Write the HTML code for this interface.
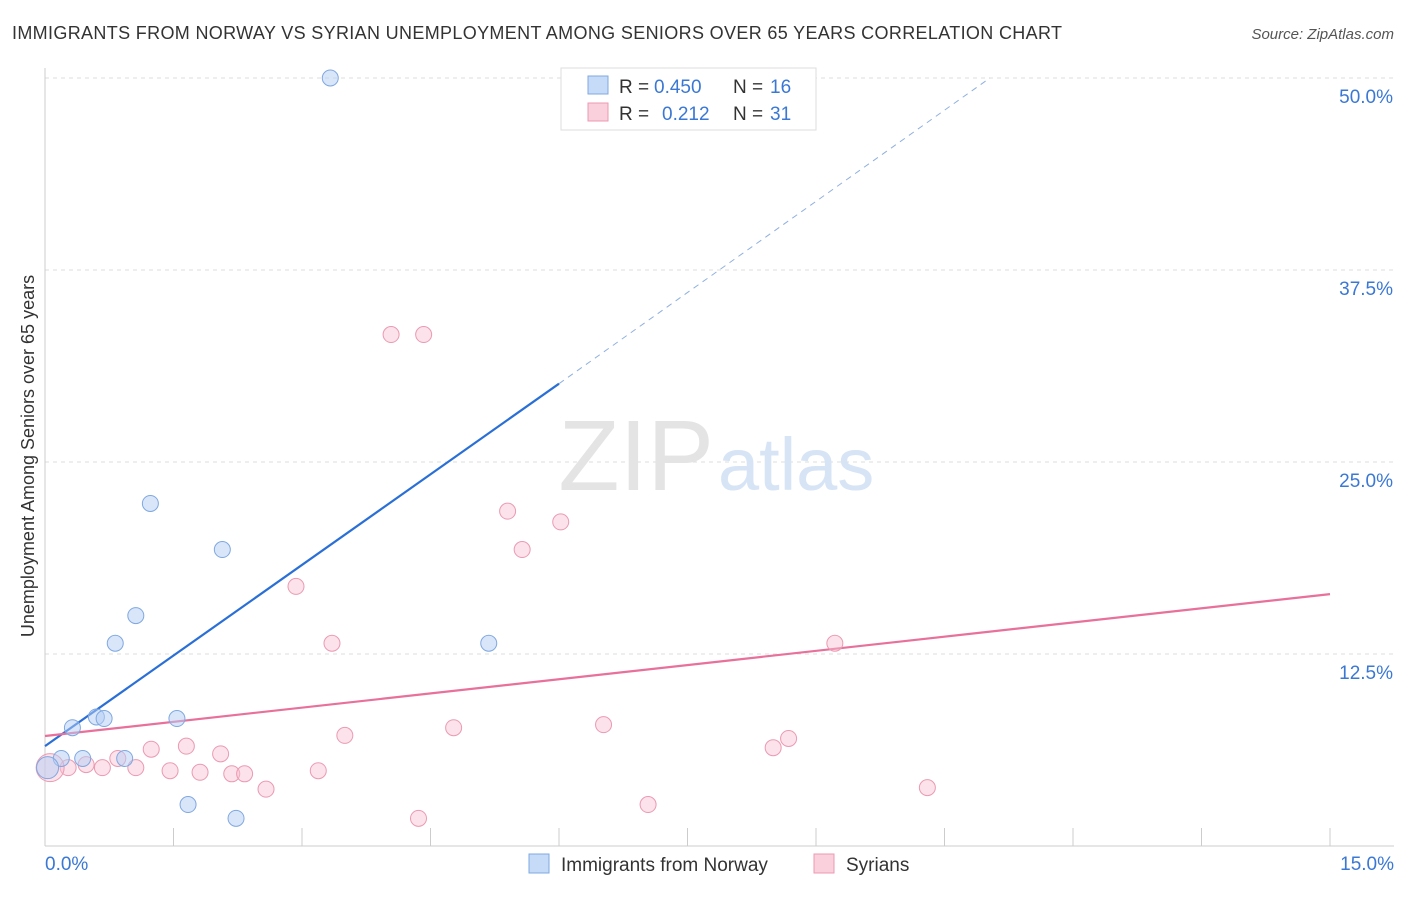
<!DOCTYPE html>
<html><head><meta charset="utf-8"><style>
body{margin:0;background:#fff;font-family:"Liberation Sans",sans-serif;}
svg text{font-family:"Liberation Sans",sans-serif;}
</style></head><body>
<svg width="1406" height="892" xmlns="http://www.w3.org/2000/svg">
<text x="12" y="39" font-size="18" fill="#333" textLength="1050">IMMIGRANTS FROM NORWAY VS SYRIAN UNEMPLOYMENT AMONG SENIORS OVER 65 YEARS CORRELATION CHART</text>
<text x="1394" y="39" font-size="15" fill="#555" font-style="italic" text-anchor="end">Source: ZipAtlas.com</text>
<g id="grid"></g>
<text x="714" y="490" font-size="100" fill="#e4e4e4" font-family="Liberation Serif" text-anchor="end">ZIP</text>
<text x="718" y="490" font-size="74" fill="#d6e4f5">atlas</text>
<text transform="translate(34,456) rotate(-90)" font-size="18" fill="#333" text-anchor="middle">Unemployment Among Seniors over 65 years</text>
<text x="45" y="870" font-size="19" fill="#3a78d4">0.0%</text>
<text x="1394" y="870" font-size="19" fill="#3a78d4" text-anchor="end">15.0%</text>
<g id="lines"></g>
<g id="pts"></g>
<g>
<rect x="561" y="68" width="255" height="62" fill="#fff" stroke="#ddd"/>
<rect x="588" y="76" width="20" height="18" fill="#c6dbf7" stroke="#7fa8e0"/>
<text y="93" font-size="19" fill="#333"><tspan x="619">R =</tspan><tspan x="654" fill="#3a78d4">0.450</tspan><tspan x="733">N =</tspan><tspan x="770" fill="#3a78d4">16</tspan></text>
<rect x="588" y="103" width="20" height="18" fill="#fad0dc" stroke="#eb9ab2"/>
<text y="120" font-size="19" fill="#333"><tspan x="619">R =</tspan><tspan x="662" fill="#3a78d4">0.212</tspan><tspan x="733">N =</tspan><tspan x="770" fill="#3a78d4">31</tspan></text>
</g>
<g>
<rect x="529" y="854" width="20" height="19" fill="#c6dbf7" stroke="#7fa8e0"/>
<text x="561" y="871" font-size="19" fill="#333">Immigrants from Norway</text>
<rect x="814" y="854" width="20" height="19" fill="#fad0dc" stroke="#eb9ab2"/>
<text x="846" y="871" font-size="19" fill="#333">Syrians</text>
</g>
</svg>
<script>
const yTicks=[12.5,25,37.5,50];
const yTickLabels=["12.5%","25.0%","37.5%","50.0%"];
const xTicks=[0,1.5,3,4.5,6,7.5,9,10.5,12,13.5,15];
const norwayX=[3.33,1.23,2.07,1.06,0.82,5.18,0.32,0.6,0.69,1.54,0.19,0.44,0.93,1.67,2.23,0.03];
const norwayY=[50,22.3,19.3,15.0,13.2,13.2,7.7,8.4,8.3,8.3,5.7,5.7,5.7,2.7,1.8,5.1];
const syrianX=[4.04,4.42,5.4,6.02,5.57,2.93,3.35,9.22,4.77,6.52,3.5,8.68,8.5,1.24,1.65,2.05,0.85,1.06,0.48,0.67,0.27,1.46,1.81,2.18,2.33,3.19,2.58,4.36,7.04,10.3,0.06];
const syrianY=[33.3,33.3,21.8,21.1,19.3,16.9,13.2,13.2,7.7,7.9,7.2,7.0,6.4,6.3,6.5,6.0,5.7,5.1,5.3,5.1,5.1,4.9,4.8,4.7,4.7,4.9,3.7,1.8,2.7,3.8,5.1];
const norwayTrend=[6.5,30.1,6.0,11.03,50];
const syrianTrend=[7.16,16.4];
const X=v=>45+v/15*1285, Y=v=>846-v*15.36;
const NS="http://www.w3.org/2000/svg";
function mk(t,a,p){const e=document.createElementNS(NS,t);for(const k in a)e.setAttribute(k,a[k]);p.appendChild(e);return e;}
const g=document.getElementById('grid');
yTicks.forEach((t,i)=>{
 const l=mk('line',{x1:45,x2:1394,y1:Y(t),y2:Y(t),stroke:'#ddd','stroke-dasharray':'4,4'},g);
 
 
 const tx=mk('text',{x:1393,y:Y(t)+25,'font-size':19,fill:'#3a78d4','text-anchor':'end'},g);
 tx.textContent=yTickLabels[i];
 
 
});
const ax=mk('line',{x1:45,x2:45,y1:68,y2:846,stroke:'#ccc'},g);


const bx=mk('line',{x1:45,x2:1394,y1:846,y2:846,stroke:'#ccc'},g);


xTicks.forEach(t=>{
 const l=mk('line',{x1:X(t),x2:X(t),y1:828,y2:846,stroke:'#ccc'},g);
 
 
});
const L=document.getElementById('lines');
let a=mk('line',{x1:X(0),y1:Y(norwayTrend[0]),x2:X(norwayTrend[2]),y2:Y(norwayTrend[1]),stroke:'#2a6fd6','stroke-width':2.2},L);


a=mk('line',{x1:X(norwayTrend[2]),y1:Y(norwayTrend[1]),x2:X(norwayTrend[3]),y2:Y(norwayTrend[4]),stroke:'#8fb0e0','stroke-width':1,'stroke-dasharray':'6,5'},L);


a=mk('line',{x1:X(0),y1:Y(syrianTrend[0]),x2:X(15),y2:Y(syrianTrend[1]),stroke:'#e8709a','stroke-width':2.2},L);


const P=document.getElementById('pts');
syrianX.forEach((v,i)=>{
 const c=mk('circle',{cx:X(v),cy:Y(syrianY[i]),r:i==syrianX.length-1?14:8,fill:'rgba(248,190,208,0.45)',stroke:'#eb9ab2','stroke-width':1},P);
 
 
});
norwayX.forEach((v,i)=>{
 const c=mk('circle',{cx:X(v),cy:Y(norwayY[i]),r:i==norwayX.length-1?11:8,fill:'rgba(180,205,245,0.5)',stroke:'#7fa8e0','stroke-width':1},P);
 
 
});
</script>
</body></html>
